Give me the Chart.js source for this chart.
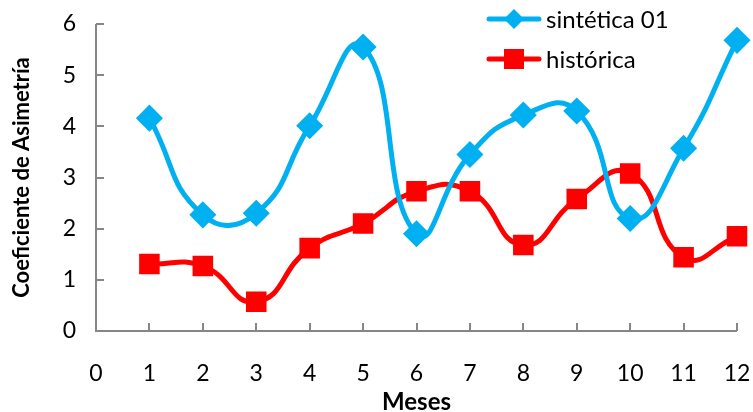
<!DOCTYPE html>
<html>
<head>
<meta charset="utf-8">
<script src="https://cdn.jsdelivr.net/npm/chart.js@4"></script>
<style>
  html, body { margin: 0; padding: 0; background: #fff; }
  #wrap { width: 753px; height: 412px; }
</style>
</head>
<body>
<div id="wrap"><canvas id="asimetriaChart" width="753" height="412"></canvas></div>
<script>
let meses = [1, 2, 3, 4, 5, 6, 7, 8, 9, 10, 11, 12]; // Meses
let sinteticaData = [4.16, 2.27, 2.30, 4.01, 5.55, 1.90, 3.45, 4.22, 4.30, 2.20, 3.57, 5.68]; // sintética 01
let historicaData = [1.31, 1.27, 0.57, 1.62, 2.10, 2.73, 2.73, 1.68, 2.58, 3.08, 1.44, 1.85]; // histórica
let xTicks = [0, 1, 2, 3, 4, 5, 6, 7, 8, 9, 10, 11, 12];
let yTicks = [0, 1, 2, 3, 4, 5, 6];

let axisGray = '#868686';
let fontFam = 'Lato, "Open Sans", sans-serif';

// ticks dibujados hacia dentro, como en Excel
let insideTicks = {
  id: 'insideTicks',
  afterDatasetsDraw(chart) {
    let c = chart.ctx, x = chart.scales.x, y = chart.scales.y;
    c.save();
    c.strokeStyle = axisGray;
    c.lineWidth = 2;
    c.beginPath();
    xTicks.forEach(v => {
      let px = Math.round(x.getPixelForValue(v));
      c.moveTo(px, y.bottom); c.lineTo(px, y.bottom - 8);
    });
    yTicks.forEach(v => {
      let py = Math.round(y.getPixelForValue(v));
      c.moveTo(x.left, py); c.lineTo(x.left + 8, py);
    });
    c.moveTo(x.left, y.top); c.lineTo(x.left, y.bottom); c.lineTo(x.right, y.bottom);
    c.stroke();
    c.restore();
  }
};

// leyenda con línea y marcador dentro del área
let lineLegend = {
  id: 'lineLegend',
  afterDraw(chart) {
    let c = chart.ctx;
    let rows = [19, 59];
    c.save();
    chart.data.datasets.forEach((ds, i) => {
      let yy = rows[i];
      c.strokeStyle = ds.borderColor;
      c.lineWidth = 5;
      c.lineCap = 'round';
      c.beginPath(); c.moveTo(489, yy); c.lineTo(539, yy); c.stroke();
      c.fillStyle = ds.pointBackgroundColor;
      if (ds.pointStyle === 'rectRot') {
        c.beginPath();
        c.moveTo(514, yy - 10); c.lineTo(524, yy); c.lineTo(514, yy + 10); c.lineTo(504, yy);
        c.closePath(); c.fill();
      } else {
        c.fillRect(504, yy - 10, 20, 20);
      }
      c.fillStyle = '#000';
      c.font = '24px ' + fontFam;
      c.textBaseline = 'middle';
      c.fillText(ds.label, 546, yy + 1);
    });
    c.restore();
  }
};

function noPad(s) {
  s.paddingLeft = 0; s.paddingRight = 0; s.paddingTop = 0; s.paddingBottom = 0;
}

let ctx = document.getElementById('asimetriaChart').getContext('2d');

let asimetriaChart = new Chart(ctx, {
  type: 'line',
  data: {
    datasets: [
      {
        label: 'sintética 01',
        data: meses.map((m, i) => ({ x: m, y: sinteticaData[i] })),
        borderColor: '#00B0F0',
        backgroundColor: '#00B0F0',
        pointBackgroundColor: '#00B0F0',
        pointBorderColor: '#00B0F0',
        pointStyle: 'rectRot',
        pointRadius: 10,
        borderWidth: 5,
        tension: 0.5,
        fill: false
      },
      {
        label: 'histórica',
        data: meses.map((m, i) => ({ x: m, y: historicaData[i] })),
        borderColor: '#FF0000',
        backgroundColor: '#FF0000',
        pointBackgroundColor: '#FF0000',
        pointBorderColor: '#FF0000',
        pointStyle: 'rect',
        pointRadius: 11,
        borderWidth: 5,
        tension: 0.5,
        fill: false
      }
    ]
  },
  options: {
    responsive: false,
    animation: false,
    clip: false,
    layout: { padding: { top: 24, right: 12, left: 0, bottom: 0 } },
    plugins: {
      legend: { display: false },
      tooltip: { enabled: false }
    },
    scales: {
      x: {
        type: 'linear',
        min: 0,
        max: 12,
        afterBuildTicks: s => { s.ticks = xTicks.map(v => ({ value: v })); },
        afterFit: s => { s.height = 81; noPad(s); },
        grid: { display: false, drawTicks: false },
        border: { display: false },
        ticks: { color: '#000', padding: 29, font: { family: fontFam, size: 23 } },
        title: {
          display: true, text: 'Meses', color: '#000', padding: { top: 0, bottom: 0 },
          font: { family: fontFam, size: 24, weight: 'bold', lineHeight: 0.8 }
        }
      },
      y: {
        min: 0,
        max: 6,
        afterBuildTicks: s => { s.ticks = yTicks.map(v => ({ value: v })); },
        afterFit: s => { s.width = 96; noPad(s); },
        grid: { display: false, drawTicks: false },
        border: { display: false },
        ticks: { color: '#000', padding: 20, font: { family: fontFam, size: 23 } },
        title: {
          display: true, text: 'Coeficiente de Asimetría', color: '#000', padding: { top: 9, bottom: 0 },
          font: { family: fontFam, size: 22, weight: 'bold' }
        }
      }
    }
  },
  plugins: [insideTicks, lineLegend]
});
</script>
</body>
</html>
